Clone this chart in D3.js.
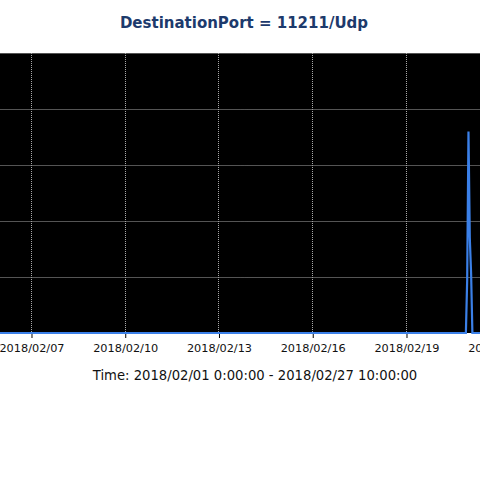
<!DOCTYPE html>
<html>
<head>
<meta charset="utf-8">
<script src="https://cdn.jsdelivr.net/npm/d3@7"></script>
<style>
  body { margin: 0; background: #fff; }
  svg { display: block; }
</style>
</head>
<body>
<svg id="chart" width="480" height="480"></svg>
<script>
// Hourly samples; the series is flat at zero except for the spike on 02/20-21
const sTitle = 'DestinationPort = 11211/Udp';
const sTimeLabel = 'Time: 2018/02/01 0:00:00 - 2018/02/27 10:00:00';
const aTimes = [
  '2018-02-01T00:00', '2018-02-20T22:00', '2018-02-20T23:00', '2018-02-21T00:00',
  '2018-02-21T01:00', '2018-02-21T02:00', '2018-02-21T03:00', '2018-02-27T10:00'
];
const aValues = [0, 0, 9.5, 36, 17, 10.7, 0, 0];
const aYTicks = [0, 10, 20, 30, 40, 50];
const aXTicks = ['2018-02-07', '2018-02-10', '2018-02-13', '2018-02-16', '2018-02-19', '2018-02-22'];

const parseTime = d3.timeParse('%Y-%m-%dT%H:%M');
const parseDay = d3.timeParse('%Y-%m-%d');
const aData = aTimes.map((t, i) => ({ date: parseTime(t), value: aValues[i] }));

const svg = d3.select('#chart');
// plot is wider than the window: the picture is a crop of a bigger chart
const jPlot = { l: -156.5, r: 669, t: 53, b: 333 };

const oScaleX = d3.scaleTime()
  .domain([parseTime('2018-02-01T00:00'), parseTime('2018-02-27T10:00')])
  .range([jPlot.l, jPlot.r]);
const oScaleY = d3.scaleLinear().domain([0, 50]).range([jPlot.b, jPlot.t]);

// Plot background
svg.append('rect')
  .attr('x', jPlot.l).attr('y', jPlot.t)
  .attr('width', jPlot.r - jPlot.l).attr('height', jPlot.b - jPlot.t)
  .attr('fill', '#000');

// Dotted grid
const oGrid = svg.append('g').attr('stroke', '#a8a8a8').attr('stroke-width', 1).attr('stroke-dasharray', '1,1');
oGrid.selectAll('line.h').data(aYTicks.slice(1)).enter().append('line')
  .attr('x1', jPlot.l).attr('x2', jPlot.r)
  .attr('y1', d => Math.round(oScaleY(d)) + 0.5).attr('y2', d => Math.round(oScaleY(d)) + 0.5);
oGrid.selectAll('line.v').data(aXTicks.map(parseDay)).enter().append('line')
  .attr('x1', d => Math.round(oScaleX(d)) + 0.5).attr('x2', d => Math.round(oScaleX(d)) + 0.5)
  .attr('y1', jPlot.t).attr('y2', jPlot.b);

// x axis
const oAxis = d3.axisBottom(oScaleX)
  .tickValues(aXTicks.map(parseDay))
  .tickFormat(d3.timeFormat('%Y/%m/%d'))
  .tickSize(5)
  .tickPadding(6);
const oAxisG = svg.append('g')
  .attr('transform', `translate(0.5, ${jPlot.b})`)
  .call(oAxis);
oAxisG.select('.domain').remove();
oAxisG.selectAll('.tick line').attr('stroke', '#000');
oAxisG.selectAll('.tick text')
  .attr('fill', '#111')
  .style('font-family', '"DejaVu Sans", sans-serif')
  .style('font-size', '11.3px');

// Series line
const fnLine = d3.line().x(d => oScaleX(d.date)).y(d => oScaleY(d.value));
svg.append('path')
  .datum(aData)
  .attr('d', fnLine)
  .attr('fill', 'none')
  .attr('stroke', '#3b80e8')
  .attr('stroke-width', 2.2)
  .attr('stroke-linejoin', 'miter');

// Titles
svg.append('text')
  .attr('x', 244).attr('y', 28)
  .attr('text-anchor', 'middle')
  .attr('fill', '#1d3a6c')
  .style('font-family', '"DejaVu Sans", sans-serif')
  .style('font-weight', 'bold')
  .style('font-size', '15px')
  .text(sTitle);

svg.append('text')
  .attr('x', 255).attr('y', 380)
  .attr('text-anchor', 'middle')
  .attr('fill', '#111')
  .style('font-family', '"DejaVu Sans", sans-serif')
  .style('font-size', '13.2px')
  .text(sTimeLabel);
</script>
</body>
</html>
